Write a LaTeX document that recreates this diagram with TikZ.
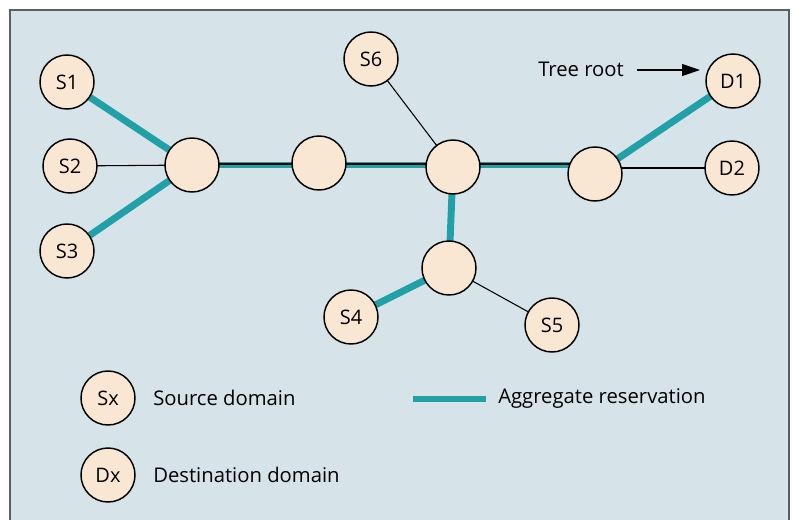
\documentclass[tikz,border=0pt]{standalone}
\usepackage{fontspec}
\setmainfont{Open Sans}
\usetikzlibrary{arrows.meta}
\definecolor{panel}{HTML}{D6E3E9}
\definecolor{nodefill}{HTML}{F9E7D4}
\definecolor{aggteal}{HTML}{22A0A8}
\definecolor{framegrey}{HTML}{5A5F62}
\pgfdeclarelayer{panellayer}
\pgfdeclarelayer{linklayer}
\pgfsetlayers{panellayer,linklayer,main}
\begin{document}
\begin{tikzpicture}[x=0.75pt,y=-0.75pt,
  dom/.style={circle,draw=black,line width=1.1pt,fill=nodefill,minimum size=40.5pt,inner sep=0pt,font=\fontsize{15}{17}\selectfont},
  agg/.style={draw=aggteal,line width=5.2pt},
  link/.style={draw=black,line width=0.8pt},
  trunk/.style={draw=black,line width=1.2pt},
  lbl/.style={font=\fontsize{15.2}{17}\selectfont,inner sep=0pt,anchor=west}]
\useasboundingbox (0,0) rectangle (800,519);
\begin{pgfonlayer}{panellayer}
\begin{scope}
\clip (0,0) rectangle (800,519);
\fill[white] (0,0) rectangle (800,519);
\draw[framegrey,line width=1.1pt,fill=panel] (10,10) rectangle (789,540);
\end{scope}
\end{pgfonlayer}

% domains
\node[dom] (s1) at (67,82) {S1};
\node[dom] (s2) at (70,166) {S2};
\node[dom] (s3) at (67,251) {S3};
\node[dom] (n1) at (192,165) {};
\node[dom] (n2) at (319,163) {};
\node[dom] (n3) at (453,167) {};
\node[dom] (n4) at (449,268) {};
\node[dom] (n5) at (595,174) {};
\node[dom] (s6) at (371,59) {S6};
\node[dom] (d1) at (733,81) {D1};
\node[dom] (d2) at (732,168) {D2};
\node[dom] (s4) at (351,317) {S4};
\node[dom] (s5) at (552,325) {S5};

% the trunk runs level from n1 across to n5
\coordinate (trunkend) at (n5.center |- n1.center);

% links, drawn behind the circles
\begin{pgfonlayer}{linklayer}
\draw[agg] (s1.center) -- (n1.center);
\draw[agg] (s3.center) -- (n1.center);
\draw[link] (s2.center) -- (n1.center);
\draw[agg] (n1.center) -- (trunkend);
\draw[trunk] ([yshift=0.6pt]n1.center) -- ([yshift=0.6pt]trunkend);
\draw[agg] (n3.center) -- (n4.center);
\draw[agg] (n4.center) -- (s4.center);
\draw[link] (n4.center) -- (s5.center);
\draw[link] (n3.center) -- (s6.center);
\draw[agg] (n5.center) -- (d1.center);
\draw[link] (d2.center) -- (d2.center -| n5.center);
\end{pgfonlayer}

% legend
\node[dom] (sx) at (108,398) {Sx};
\node[dom] (dx) at (108,475) {Dx};
\node[lbl] (sxl) at (153,398) {Source domain};
\node[lbl] (dxl) at (153,475) {Destination domain};
\coordinate (la) at (413,399);
\coordinate (lb) at (486,399);
\draw[agg] (la) -- (lb);
\node[lbl] (aggl) at (498,398) {Aggregate reservation};

% tree root marker
\node[lbl] (tr) at (538,69) {Tree root};
\coordinate (ta) at (637,70);
\coordinate (tb) at (700,70);
\draw[line width=0.9pt,-{Triangle[length=13.5pt,width=9pt]}] (ta) -- (tb);
\end{tikzpicture}
\end{document}
